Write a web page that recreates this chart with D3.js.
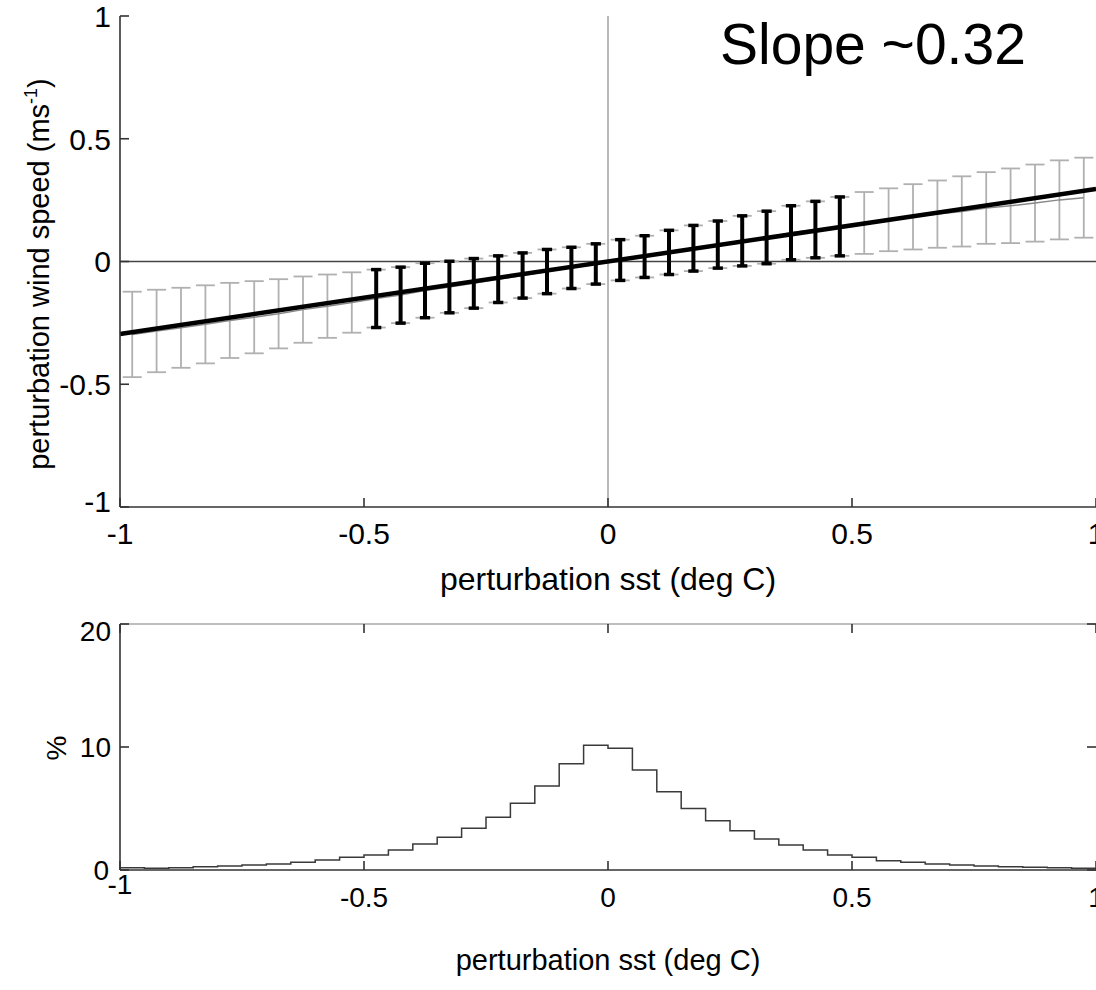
<!DOCTYPE html>
<html><head><meta charset="utf-8">
<script src="https://cdn.jsdelivr.net/npm/d3@7"></script>
<style>
html,body{margin:0;padding:0;background:#fff;}
svg{display:block;font-family:"Liberation Sans",Arial,Helvetica,sans-serif;}
</style></head>
<body>
<script>
// ---- data ----
const binCenters = [-0.975,-0.925,-0.875,-0.825,-0.775,-0.725,-0.675,-0.625,-0.575,-0.525,
  -0.475,-0.425,-0.375,-0.325,-0.275,-0.225,-0.175,-0.125,-0.075,-0.025,
  0.025,0.075,0.125,0.175,0.225,0.275,0.325,0.375,0.425,0.475,
  0.525,0.575,0.625,0.675,0.725,0.775,0.825,0.875,0.925,0.975];
const meanWind = [-0.297,-0.283,-0.270,-0.256,-0.240,-0.227,-0.213,-0.196,-0.182,-0.167,
  -0.151,-0.137,-0.118,-0.104,-0.089,-0.072,-0.057,-0.041,-0.026,-0.010,
  0.006,0.020,0.037,0.054,0.069,0.084,0.098,0.117,0.130,0.143,
  0.157,0.170,0.182,0.193,0.204,0.218,0.227,0.238,0.251,0.260];
const errWind = [0.174,0.168,0.163,0.159,0.153,0.147,0.141,0.135,0.129,0.123,
  0.118,0.114,0.111,0.105,0.101,0.095,0.092,0.090,0.084,0.082,
  0.083,0.085,0.090,0.093,0.096,0.102,0.107,0.110,0.115,0.120,
  0.126,0.128,0.133,0.137,0.143,0.146,0.152,0.157,0.161,0.163];
const fitX = [-1, 1];
const fitY = [-0.295, 0.295];
const histEdges = [-1,-0.95,-0.9,-0.85,-0.8,-0.75,-0.7,-0.65,-0.6,-0.55,
  -0.5,-0.45,-0.4,-0.35,-0.3,-0.25,-0.2,-0.15,-0.1,-0.05,
  0,0.05,0.1,0.15,0.2,0.25,0.3,0.35,0.4,0.45,
  0.5,0.55,0.6,0.65,0.7,0.75,0.8,0.85,0.9,0.95,1];
const histPct = [0.19,0.15,0.19,0.27,0.33,0.41,0.49,0.62,0.81,1.03,
  1.22,1.63,2.11,2.66,3.39,4.28,5.42,6.83,8.64,10.14,
  9.89,8.13,6.37,5.01,4.01,3.2,2.52,2.03,1.63,1.22,
  1.03,0.76,0.62,0.49,0.41,0.33,0.27,0.22,0.19,0.15];
const xTicks = [-1,-0.5,0,0.5,1];
const yTopTicks = [-1,-0.5,0,0.5,1];
const yBotTicks = [0,10,20];
const xLabel = "perturbation sst (deg C)";
const annotation = "Slope ~0.32";

// ---- layout ----
const W = 1096, H = 990;
const svg = d3.select("body").append("svg").attr("width", W).attr("height", H);
const x = d3.scaleLinear().domain([-1,1]).range([120,1096]);
const yT = d3.scaleLinear().domain([-1,1]).range([507,16]);
const yB = d3.scaleLinear().domain([0,20]).range([870,624]);
const fmt = d => String(d);

// ===== TOP PANEL =====
const gTop = svg.append("g");
gTop.append("line").attr("x1", x(0)).attr("x2", x(0)).attr("y1", yT(1)).attr("y2", yT(-1))
  .attr("stroke", "#8a8a8a").attr("stroke-width", 1.2);
gTop.append("line").attr("x1", x(-1)).attr("x2", x(1)).attr("y1", yT(0)).attr("y2", yT(0))
  .attr("stroke", "#444").attr("stroke-width", 1.4);

const bins = binCenters.map((c,i)=>({c, m: meanWind[i], e: errWind[i]}));
const gbar = gTop.append("g").attr("stroke", "#b0b0b0").attr("stroke-width", 1.8).attr("fill","none");
bins.forEach(b => {
  gbar.append("line").attr("x1", x(b.c)).attr("x2", x(b.c)).attr("y1", yT(b.m+b.e)).attr("y2", yT(b.m-b.e));
  [b.m+b.e, b.m-b.e].forEach(v => gbar.append("line")
    .attr("x1", x(b.c-0.0195)).attr("x2", x(b.c+0.0195)).attr("y1", yT(v)).attr("y2", yT(v)));
});
gTop.append("path").datum(bins)
  .attr("d", d3.line().x(d=>x(d.c)).y(d=>yT(d.m)))
  .attr("fill","none").attr("stroke","#888").attr("stroke-width",1.5);
const bbar = gTop.append("g").attr("stroke", "#000").attr("fill","none");
bins.filter(b => Math.abs(b.c) < 0.5).forEach(b => {
  bbar.append("line").attr("x1", x(b.c)).attr("x2", x(b.c)).attr("y1", yT(b.m+b.e)).attr("y2", yT(b.m-b.e))
    .attr("stroke-width", 4);
  [b.m+b.e, b.m-b.e].forEach(v => bbar.append("line")
    .attr("x1", x(b.c-0.0105)).attr("x2", x(b.c+0.0105)).attr("y1", yT(v)).attr("y2", yT(v))
    .attr("stroke-width", 3.5));
});
gTop.append("path").datum(fitX.map((v,i)=>[v, fitY[i]]))
  .attr("d", d3.line().x(d=>x(d[0])).y(d=>yT(d[1])))
  .attr("fill","none").attr("stroke","#000").attr("stroke-width",4.5);

const axTop = gTop.append("g").attr("stroke","#333").attr("stroke-width",1.6);
axTop.append("line").attr("x1", x(-1)).attr("x2", x(-1)).attr("y1", yT(1)).attr("y2", yT(-1));
axTop.append("line").attr("x1", x(-1)).attr("x2", x(1)).attr("y1", yT(-1)).attr("y2", yT(-1));
yTopTicks.forEach(t => axTop.append("line").attr("x1", x(-1)).attr("x2", x(-1)+9).attr("y1", yT(t)).attr("y2", yT(t)));
xTicks.forEach(t => axTop.append("line").attr("x1", x(t)).attr("x2", x(t)).attr("y1", yT(-1)).attr("y2", yT(-1)-9));

const fsT = 30;
gTop.selectAll("text.yt").data(yTopTicks).enter().append("text")
  .attr("x", 111).attr("y", d => d === -1 ? yT(d) - 6 : yT(d)).attr("dy","0.36em")
  .attr("text-anchor","end").attr("font-size", fsT).text(fmt);
gTop.selectAll("text.xt").data(xTicks).enter().append("text")
  .attr("x", d => x(d)).attr("y", 533).attr("dy","0.36em")
  .attr("text-anchor","middle").attr("font-size", fsT).text(fmt);
gTop.append("text").attr("x", x(0)).attr("y", 578).attr("dy","0.36em")
  .attr("text-anchor","middle").attr("font-size", 32).text(xLabel);
const yl = gTop.append("text").attr("transform","translate(39,274) rotate(-90)")
  .attr("text-anchor","middle").attr("dy","0.36em").attr("font-size", 29);
yl.append("tspan").text("perturbation wind speed (ms");
yl.append("tspan").attr("dy", -12).attr("font-size", 18).text("-1");
yl.append("tspan").attr("dy", 12).text(")");
gTop.append("text").attr("x", 720).attr("y", 64).attr("font-size", 57).text(annotation);

// ===== BOTTOM PANEL =====
const gBot = svg.append("g");
gBot.append("line").attr("x1", x(-1)).attr("x2", x(1)).attr("y1", yB(20)).attr("y2", yB(20))
  .attr("stroke","#a8a8a8").attr("stroke-width",1.6);
const stepPts = histEdges.map((e,i)=>[e, i < histPct.length ? histPct[i] : histPct[histPct.length-1]]);
gBot.append("path").datum(stepPts)
  .attr("d", d3.line().curve(d3.curveStepAfter).x(d=>x(d[0])).y(d=>yB(d[1])))
  .attr("fill","none").attr("stroke","#3a3a3a").attr("stroke-width",1.5);
const axB = gBot.append("g").attr("stroke","#333").attr("stroke-width",1.6);
axB.append("line").attr("x1", x(-1)).attr("x2", x(-1)).attr("y1", yB(20)).attr("y2", yB(0));
axB.append("line").attr("x1", x(-1)).attr("x2", x(1)).attr("y1", yB(0)).attr("y2", yB(0));
yBotTicks.forEach(t => {
  axB.append("line").attr("x1", x(-1)).attr("x2", x(-1)+9).attr("y1", yB(t)).attr("y2", yB(t));
  axB.append("line").attr("x1", x(1)).attr("x2", x(1)-9).attr("y1", yB(t)).attr("y2", yB(t));
});
xTicks.forEach(t => {
  axB.append("line").attr("x1", x(t)).attr("x2", x(t)).attr("y1", yB(0)).attr("y2", yB(0)-9);
  axB.append("line").attr("x1", x(t)).attr("x2", x(t)).attr("y1", yB(20)).attr("y2", yB(20)+9);
});
const fsB = 28;
gBot.selectAll("text.yb").data(yBotTicks).enter().append("text")
  .attr("x", d => d === 0 ? 109 : 111).attr("y", d => d === 20 ? yB(d)+7 : yB(d)).attr("dy","0.36em")
  .attr("text-anchor","end").attr("font-size", fsB).text(fmt);
gBot.selectAll("text.xb").data(xTicks).enter().append("text")
  .attr("x", d => x(d)).attr("y", d => d === -1 ? 884 : 897).attr("dy","0.36em")
  .attr("text-anchor","middle").attr("font-size", fsB).text(fmt);
gBot.append("text").attr("transform","translate(56,748) rotate(-90)")
  .attr("text-anchor","middle").attr("dy","0.36em").attr("font-size", 28).text("%");
gBot.append("text").attr("x", x(0)).attr("y", 960).attr("dy","0.36em")
  .attr("text-anchor","middle").attr("font-size", 29).text(xLabel);
</script>
</body></html>
